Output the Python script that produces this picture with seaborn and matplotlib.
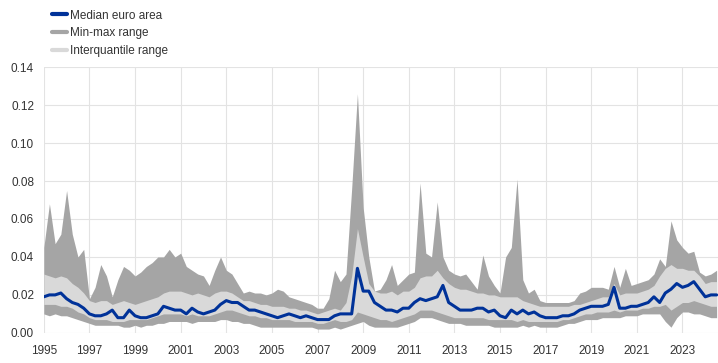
import pandas as pd
import numpy as np
import matplotlib
matplotlib.use("Agg")
import matplotlib.pyplot as plt
import matplotlib.dates as mdates
from matplotlib.lines import Line2D
import seaborn as sns

# ---------- Data (quarterly) ---------- #

dates = pd.date_range("1995-01-01", periods=119, freq="QS")

maxRange = [
    0.045, 0.068, 0.047, 0.052,  # 1995
    0.075, 0.052, 0.040, 0.044,  # 1996
    0.018, 0.024, 0.036, 0.030,  # 1997
    0.019, 0.028, 0.035, 0.033,  # 1998
    0.030, 0.032, 0.035, 0.037,  # 1999
    0.040, 0.040, 0.044, 0.040,  # 2000
    0.042, 0.035, 0.033, 0.031,  # 2001
    0.030, 0.025, 0.033, 0.040,  # 2002
    0.033, 0.031, 0.026, 0.021,  # 2003
    0.022, 0.021, 0.021, 0.020,  # 2004
    0.021, 0.023, 0.022, 0.019,  # 2005
    0.018, 0.017, 0.016, 0.015,  # 2006
    0.013, 0.013, 0.018, 0.033,  # 2007
    0.027, 0.031, 0.076, 0.126,  # 2008
    0.066, 0.040, 0.022, 0.023,  # 2009
    0.028, 0.036, 0.025, 0.028,  # 2010
    0.031, 0.032, 0.079, 0.042,  # 2011
    0.040, 0.069, 0.040, 0.033,  # 2012
    0.031, 0.030, 0.031, 0.027,  # 2013
    0.023, 0.041, 0.030, 0.025,  # 2014
    0.021, 0.040, 0.045, 0.081,  # 2015
    0.028, 0.021, 0.023, 0.017,  # 2016
    0.016, 0.016, 0.016, 0.016,  # 2017
    0.016, 0.017, 0.021, 0.022,  # 2018
    0.024, 0.024, 0.024, 0.023,  # 2019
    0.035, 0.024, 0.034, 0.025,  # 2020
    0.026, 0.027, 0.028, 0.031,  # 2021
    0.039, 0.035, 0.059, 0.049,  # 2022
    0.045, 0.042, 0.043, 0.032,  # 2023
    0.030, 0.031, 0.033,         # 2024
]

q75 = [
    0.031, 0.030, 0.029, 0.030,
    0.029, 0.026, 0.024, 0.021,
    0.017, 0.016, 0.017, 0.017,
    0.015, 0.016, 0.017, 0.016,
    0.015, 0.016, 0.017, 0.018,
    0.019, 0.021, 0.022, 0.022,
    0.022, 0.021, 0.020, 0.021,
    0.020, 0.019, 0.021, 0.022,
    0.022, 0.021, 0.019, 0.017,
    0.017, 0.016, 0.015, 0.015,
    0.014, 0.014, 0.014, 0.013,
    0.013, 0.012, 0.012, 0.011,
    0.010, 0.011, 0.012, 0.013,
    0.012, 0.016, 0.030, 0.055,
    0.040, 0.026, 0.022, 0.021,
    0.021, 0.022, 0.020, 0.022,
    0.022, 0.024, 0.029, 0.030,
    0.030, 0.033, 0.029, 0.026,
    0.024, 0.023, 0.023, 0.022,
    0.021, 0.021, 0.020, 0.020,
    0.019, 0.019, 0.019, 0.019,
    0.017, 0.016, 0.015, 0.014,
    0.014, 0.014, 0.014, 0.014,
    0.014, 0.015, 0.015, 0.016,
    0.017, 0.018, 0.019, 0.019,
    0.026, 0.020, 0.021, 0.021,
    0.021, 0.022, 0.023, 0.025,
    0.030, 0.034, 0.036, 0.034,
    0.034, 0.033, 0.033, 0.030,
    0.026, 0.027, 0.027,
]

median = [
    0.019, 0.020, 0.020, 0.021,
    0.018, 0.016, 0.015, 0.013,
    0.010, 0.009, 0.009, 0.010,
    0.012, 0.008, 0.008, 0.012,
    0.009, 0.008, 0.008, 0.009,
    0.010, 0.014, 0.013, 0.012,
    0.012, 0.010, 0.013, 0.011,
    0.010, 0.011, 0.012, 0.015,
    0.017, 0.016, 0.016, 0.014,
    0.012, 0.012, 0.011, 0.010,
    0.009, 0.008, 0.009, 0.010,
    0.009, 0.008, 0.009, 0.008,
    0.007, 0.007, 0.007, 0.009,
    0.010, 0.010, 0.010, 0.034,
    0.022, 0.022, 0.016, 0.014,
    0.012, 0.012, 0.011, 0.013,
    0.013, 0.016, 0.018, 0.017,
    0.018, 0.019, 0.025, 0.016,
    0.014, 0.012, 0.012, 0.012,
    0.013, 0.013, 0.011, 0.012,
    0.009, 0.008, 0.012, 0.010,
    0.012, 0.010, 0.011, 0.009,
    0.008, 0.008, 0.008, 0.009,
    0.009, 0.010, 0.012, 0.013,
    0.014, 0.014, 0.014, 0.015,
    0.024, 0.013, 0.013, 0.014,
    0.014, 0.015, 0.016, 0.019,
    0.016, 0.021, 0.023, 0.026,
    0.024, 0.025, 0.027, 0.023,
    0.019, 0.020, 0.020,
]

q25 = [
    0.015, 0.015, 0.015, 0.014,
    0.014, 0.013, 0.011, 0.010,
    0.008, 0.007, 0.007, 0.007,
    0.006, 0.006, 0.006, 0.007,
    0.007, 0.007, 0.007, 0.008,
    0.009, 0.010, 0.010, 0.010,
    0.010, 0.009, 0.010, 0.009,
    0.009, 0.009, 0.010, 0.011,
    0.012, 0.012, 0.011, 0.010,
    0.009, 0.009, 0.008, 0.008,
    0.007, 0.007, 0.007, 0.007,
    0.006, 0.006, 0.006, 0.006,
    0.005, 0.005, 0.006, 0.007,
    0.006, 0.006, 0.007, 0.011,
    0.010, 0.009, 0.008, 0.007,
    0.007, 0.006, 0.007, 0.008,
    0.009, 0.010, 0.012, 0.012,
    0.012, 0.011, 0.010, 0.009,
    0.008, 0.008, 0.008, 0.008,
    0.008, 0.008, 0.007, 0.007,
    0.007, 0.007, 0.007, 0.006,
    0.007, 0.006, 0.006, 0.006,
    0.006, 0.006, 0.006, 0.007,
    0.007, 0.008, 0.009, 0.010,
    0.010, 0.011, 0.011, 0.011,
    0.012, 0.011, 0.012, 0.012,
    0.012, 0.013, 0.013, 0.014,
    0.014, 0.015, 0.012, 0.014,
    0.016, 0.016, 0.017, 0.016,
    0.015, 0.014, 0.014,
]

minRange = [
    0.010, 0.009, 0.010, 0.009,
    0.009, 0.008, 0.007, 0.006,
    0.005, 0.004, 0.004, 0.004,
    0.004, 0.004, 0.003, 0.003,
    0.004, 0.003, 0.004, 0.004,
    0.005, 0.005, 0.006, 0.006,
    0.006, 0.006, 0.005, 0.006,
    0.006, 0.006, 0.006, 0.007,
    0.007, 0.006, 0.006, 0.005,
    0.005, 0.004, 0.003, 0.003,
    0.003, 0.003, 0.003, 0.003,
    0.003, 0.003, 0.003, 0.003,
    0.002, 0.002, 0.002, 0.003,
    0.002, 0.003, 0.004, 0.005,
    0.006, 0.004, 0.003, 0.003,
    0.003, 0.003, 0.003, 0.004,
    0.005, 0.006, 0.008, 0.008,
    0.008, 0.007, 0.006, 0.005,
    0.005, 0.005, 0.004, 0.004,
    0.004, 0.004, 0.004, 0.003,
    0.003, 0.003, 0.003, 0.003,
    0.004, 0.003, 0.004, 0.003,
    0.003, 0.003, 0.003, 0.004,
    0.005, 0.005, 0.006, 0.007,
    0.007, 0.007, 0.008, 0.008,
    0.008, 0.008, 0.009, 0.009,
    0.009, 0.010, 0.010, 0.010,
    0.010, 0.006, 0.003, 0.008,
    0.011, 0.011, 0.010, 0.010,
    0.009, 0.008, 0.008,
]

df = pd.DataFrame({"date": dates, "min": minRange, "q25": q25,
                   "median": median, "q75": q75, "max": maxRange})

# ---------- Plot ---------- #

sns.set_theme(style="whitegrid")
plt.rcParams['font.family'] = ['Liberation Sans', 'DejaVu Sans']

blue = "#003299"
darkGrey = "#a5a5a5"
lightGrey = "#d9d9d9"

fig = plt.figure(figsize=(7.18, 3.63), dpi=100)
ax = fig.add_axes([0.061, 0.083, 0.939, 0.732])

ax.fill_between(df["date"], df["min"], df["max"], color=darkGrey, lw=0)
ax.fill_between(df["date"], df["q25"], df["q75"], color=lightGrey, lw=0)
sns.lineplot(data=df, x="date", y="median", color=blue, lw=2.2, ax=ax)

ax.set_ylim(0, 0.14)
ax.set_yticks(np.arange(0, 0.141, 0.02))
ax.yaxis.set_major_formatter(matplotlib.ticker.FormatStrFormatter('%.2f'))
ax.set_xlim(pd.Timestamp("1995-01-01"), pd.Timestamp("2024-07-23"))
ax.set_xticks([pd.Timestamp(f"{y}-01-01") for y in range(1995, 2024, 2)])
ax.xaxis.set_major_formatter(mdates.DateFormatter('%Y'))
ax.set_xlabel("")
ax.set_ylabel("")

ax.grid(True, color="#e3e3e3", lw=0.8)
for s in ax.spines.values():
    s.set_visible(False)
ax.tick_params(axis='both', labelsize=8.5, colors="#333333", length=0)
ax.tick_params(axis='x', pad=9)
ax.tick_params(axis='y', pad=7)

handles = [Line2D([], [], color=blue, lw=3),
           Line2D([], [], color=darkGrey, lw=3),
           Line2D([], [], color=lightGrey, lw=3)]
labels = ["Median euro area", "Min-max range", "Interquantile range"]
fig.legend(handles, labels, loc="upper left", bbox_to_anchor=(0.057, 1.003),
           frameon=False, fontsize=8.5, handlelength=1.3, handletextpad=0.3,
           labelspacing=0.5, labelcolor="#333333")

fig.savefig("out.png", dpi=100)
